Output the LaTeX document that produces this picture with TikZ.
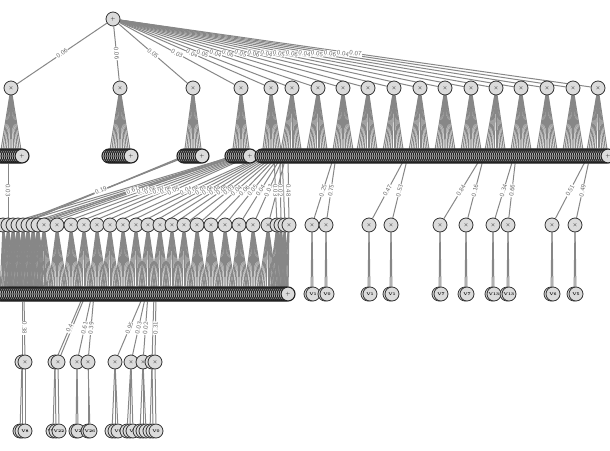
\documentclass[tikz,border=0pt]{standalone}
\pgfdeclarelayer{edges}
\pgfdeclarelayer{labels}
\pgfsetlayers{edges,labels,main}
\begin{document}
\begin{tikzpicture}[x=1pt,y=-1pt,
  nd/.style={circle,draw=black!80,fill=black!14,line width=0.8pt,minimum size=14pt,inner sep=0pt,font=\fontsize{5}{5}\selectfont},
  sm/.style={nd,draw=black!88,line width=1.1pt},
  lf/.style={nd,font=\fontsize{4}{4}\selectfont\bfseries},
  ed/.style={draw=black!47,line width=1pt},
  wt/.style={fill=white,inner sep=0.6pt,sloped,pos=0.5,text=black!58,font=\fontsize{6.5}{7}\selectfont\sffamily}]
\useasboundingbox (0,0) rectangle (610,450);

% x positions of the rows
\def\plist{11,120,193,241,271,292,318,343,368,394,420,445,471,496,521,547,573,598}
\def\qlist{3,8,13,18,23,28,33,38}
\def\glist{44,57,71,84,97,110,123,136,148,160,172,184,197,211,225,239,253,268}
\def\hlist{277,281,285,289}
\def\tlist{312,326,369,391,440,466,493,508,552,575}

% ---------- nodes ----------
\node[nd] (r) at (113,19) {$+$};
\foreach \x [count=\i] in \plist \node[nd] (p\i) at (\x,88) {$\times$};

% sum rows under the products
\foreach \k in {0,...,11} \node[sm] (a\k) at ({2*\k},156) {$+$};
\foreach \k in {0,...,11} \node[sm] (b\k) at ({109+2*\k},156) {$+$};
\foreach \k in {0,...,9} \node[sm] (c\k) at ({184+2*\k},156) {$+$};
\foreach \k in {0,...,9} \node[sm] (d\k) at ({232+2*\k},156) {$+$};
\foreach \k in {0,...,173} \node[sm] (e\k) at ({262+2*\k},156) {$+$};

% product row
\foreach \x [count=\i] in \qlist \node[nd] (q\i) at (\x,225) {$\times$};
\foreach \x [count=\i] in \glist \node[nd] (g\i) at (\x,225) {$\times$};
\foreach \x [count=\i] in \hlist \node[nd] (h\i) at (\x,225) {$\times$};
\foreach \x [count=\i] in \tlist \node[nd] (t\i) at (\x,225) {$\times$};

% lower sum row and leaves
\foreach \k in {0,...,144} \node[sm] (f\k) at ({2*\k},294) {$+$};
\foreach \x/\v [count=\i] in {312/V1,326/V0,369/V1,391/V1,440/V7,466/V7,493/V13,508/V13,552/V6,575/V5}{
  \node[lf] (ua\i) at (\x-1,294) {\v};
  \node[lf] (ub\i) at (\x+1,294) {\v};
}

% bottom products
\node[nd] (s1a) at (22,362) {$\times$};
\node[nd] (s1b) at (25,362) {$\times$};
\node[nd] (s2a) at (55,362) {$\times$};
\node[nd] (s2b) at (58,362) {$\times$};
\node[nd] (s3) at (77,362) {$\times$};
\node[nd] (s4) at (88,362) {$\times$};
\node[nd] (s5) at (115,362) {$\times$};
\node[nd] (s6) at (131,362) {$\times$};
\node[nd] (s7) at (143,362) {$\times$};
\node[nd] (s8a) at (152,362) {$\times$};
\node[nd] (s8b) at (155,362) {$\times$};

\def\wleaves{s1a/20/V8, s1a/22/V8, s1b/25/V8, s2a/53/V22, s2a/56/V22, s2b/59/V22, s3/76/V2, s3/78/V2, s4/88/V26, s4/90/V26, s5/112/V9, s5/115/V9, s5/118/V9, s6/127/V1, s6/130/V1, s6/133/V1, s7/140/V4, s7/143/V4, s7/146/V4, s8a/150/V0, s8a/153/V0, s8b/156/V0}
\foreach \n/\x/\v [count=\i] in \wleaves \node[lf] (w\i) at (\x,431) {\v};

% weighted edges: source/target/weight
\def\wlist{a4/q2/0.03, c0/q4/0.19, d0/q7/0.67, d5/g1/0.04, d6/g2/0.05, d7/g3/0.03, d8/g4/0.06, d9/g5/0.05, e0/g6/0.04, e1/g7/0.05, e2/g8/0.03, e3/g9/0.06, e4/g10/0.04, e5/g11/0.05, e6/g12/0.03, e7/g13/0.04, e8/g14/0.06, e9/g15/0.05, e10/g16/0.04, e11/g17/0.03, e12/g18/0.05, e6/h1/0.03, e9/h2/0.02, e13/h4/0.48, e36/t1/0.25, e37/t2/0.75, e72/t3/0.47, e73/t4/0.53, e110/t5/0.84, e111/t6/0.16, e126/t7/0.34, e127/t8/0.66, e163/t9/0.51, e164/t10/0.49, f12/s1b/0.38, f42/s2a/0.4, f46/s3/0.61, f47/s4/0.39, f72/s5/0.95, f73/s6/0.03, f74/s7/0.02, f78/s8b/0.31}
\def\rootw{0.06,0.06,0.05,0.03,0.04,0.05,0.04,0.06,0.05,0.06,0.04,0.05,0.06,0.04,0.05,0.06,0.04,0.07}

% ---------- connectors ----------
\begin{pgfonlayer}{edges}
\foreach \i in {1,...,18} \draw[ed] (r) -- (p\i);
\foreach \k in {0,...,11} \draw[ed] (p1) -- (a\k);
\foreach \k in {0,...,11} \draw[ed] (p2) -- (b\k);
\foreach \k in {0,...,9} \draw[ed] (p3) -- (c\k);
\foreach \k in {0,...,9} \draw[ed] (p4) -- (d\k);
\foreach \x [count=\i from 5] in {271,292,318,343,368,394,420,445,471,496,521,547,573,598}{
  \foreach \j in {0,...,11}{
    \pgfmathtruncatemacro\k{(\x-11+2*\j-262)/2}
    \ifnum\k<0 \else\ifnum\k>173 \else \draw[ed] (p\i) -- (e\k);\fi\fi
  }
}
% fans of the product row into the lower sums
\foreach \x [count=\i] in \qlist{
  \foreach \j in {-5,...,5}{
    \pgfmathtruncatemacro\k{round(\x/2)+\j}
    \ifnum\k<0 \else\ifnum\k>144 \else \draw[ed] (q\i) -- (f\k);\fi\fi
  }
}
\foreach \x [count=\i] in \glist{
  \foreach \j in {-5,...,5}{
    \pgfmathtruncatemacro\k{round(\x/2)+\j}
    \ifnum\k<0 \else\ifnum\k>144 \else \draw[ed] (g\i) -- (f\k);\fi\fi
  }
}
\foreach \x [count=\i] in \hlist{
  \foreach \j in {-5,...,5}{
    \pgfmathtruncatemacro\k{round(\x/2)+\j}
    \ifnum\k<0 \else\ifnum\k>144 \else \draw[ed] (h\i) -- (f\k);\fi\fi
  }
}
\foreach \i in {1,...,10}{
  \draw[ed] (t\i) -- (ua\i);
  \draw[ed] (t\i) -- (ub\i);
}
\foreach \s/\t/\w in \wlist \draw[ed] (\s) -- (\t);
% unweighted companions
\foreach \s/\t in {d1/q1, d2/q3, d3/q5, d4/q6, d2/q8, c1/q4, c2/q3, e10/h3, f11/s1a, f43/s2b, f77/s8a}
  \draw[ed] (\s) -- (\t);
\foreach \n/\x/\v [count=\i] in \wleaves \draw[ed] (\n) -- (w\i);
\end{pgfonlayer}

% ---------- weights ----------
\begin{pgfonlayer}{labels}
\foreach \w [count=\i] in \rootw \path (r) -- node[wt]{\w} (p\i);
\foreach \s/\t/\w in \wlist \path (\s) -- node[wt]{\w} (\t);
\end{pgfonlayer}
\end{tikzpicture}
\end{document}
